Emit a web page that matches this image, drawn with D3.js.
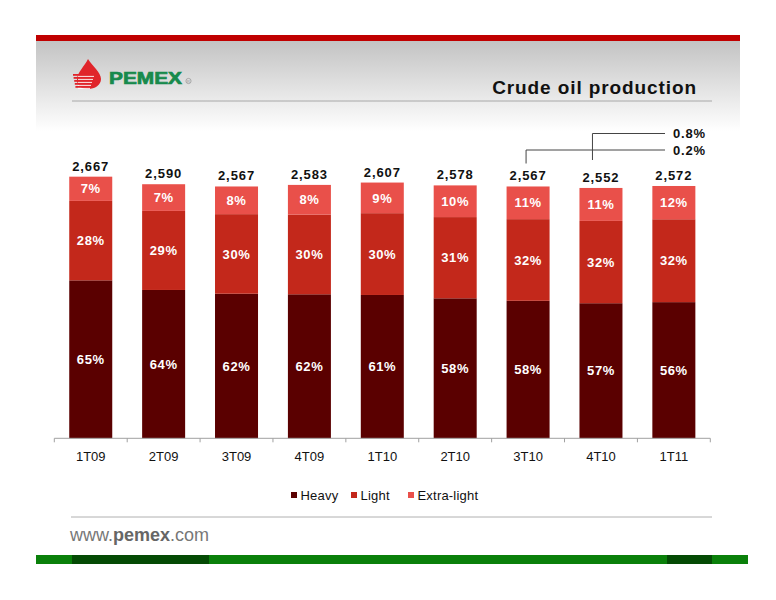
<!DOCTYPE html>
<html>
<head>
<meta charset="utf-8">
<script src="https://cdn.jsdelivr.net/npm/d3@7"></script>
<style>
  body { margin: 0; background: #fff; }
  svg { display: block; font-family: "Liberation Sans", Arial, sans-serif; }
</style>
</head>
<body>
<div id="chart"></div>
<script>
// quarters
var quarters = ['1T09', '2T09', '3T09', '4T09', '1T10', '2T10', '3T10', '4T10', '1T11'];
// segment volumes (kbd)
var heavy = [1610, 1512, 1474, 1468, 1461, 1427, 1402, 1377, 1388];
var light = [810, 806, 811, 812, 834, 828, 832, 839, 845];
var extraLight = [247, 272, 282, 303, 312, 323, 333, 336, 339];
// percentage labels printed inside the segments
var heavyPct = ['65%', '64%', '62%', '62%', '61%', '58%', '58%', '57%', '56%'];
var lightPct = ['28%', '29%', '30%', '30%', '30%', '31%', '32%', '32%', '32%'];
var extraPct = ['7%', '7%', '8%', '8%', '9%', '10%', '11%', '11%', '12%'];
// callout labels
var calloutQuarters = ['4T10', '3T10'];
var calloutLabels = ['0.8%', '0.2%'];

var seriesNames = ['Heavy', 'Light', 'Extra-light'];
var colors = ['#5a0000', '#c3281b', '#e9504a'];

var width = 776, height = 600;

var svg = d3.select('#chart').append('svg')
    .attr('width', width)
    .attr('height', height);

// header gradient + red band
var defs = svg.append('defs');
var grad = defs.append('linearGradient')
    .attr('id', 'hdr')
    .attr('x1', 0).attr('y1', 0).attr('x2', 0).attr('y2', 1);
grad.append('stop').attr('offset', '0%').attr('stop-color', '#c3c3c3');
grad.append('stop').attr('offset', '100%').attr('stop-color', '#ffffff');

svg.append('rect')
    .attr('x', 36).attr('y', 41)
    .attr('width', 704).attr('height', 90)
    .style('fill', 'url(#hdr)');

svg.append('rect')
    .attr('x', 36).attr('y', 35)
    .attr('width', 704).attr('height', 6)
    .style('fill', '#c00000');

// logo: drop with stripes
var logo = svg.append('g');
logo.append('path')
    .attr('d', 'M88,59 C85,66 77,72 77,80 C77,86 82,89 88,89 C95,89 101,85 101,79 C101,72 92,66 88,59 Z')
    .style('fill', '#e0252b');
[74, 77, 80, 83, 86].forEach(function(yy, i) {
    logo.append('rect')
        .attr('x', 73 + i * 0.6).attr('y', yy)
        .attr('width', 16 - i).attr('height', 1.8)
        .style('fill', '#e0252b');
    logo.append('line')
        .attr('x1', 78).attr('x2', 94 - i)
        .attr('y1', yy + 2.4).attr('y2', yy + 2.4)
        .style('stroke', '#fff')
        .style('stroke-width', 0.9);
});
logo.append('text')
    .attr('x', 109).attr('y', 84)
    .attr('textLength', 73)
    .attr('lengthAdjust', 'spacingAndGlyphs')
    .style('font-size', '17px')
    .style('font-weight', 'bold')
    .style('fill', '#178a4c')
    .style('stroke', '#178a4c')
    .style('stroke-width', 0.7)
    .text('PEMEX');
logo.append('circle')
    .attr('cx', 188.5).attr('cy', 81).attr('r', 2.6)
    .style('fill', 'none').style('stroke', '#999').style('stroke-width', 0.8);
logo.append('text')
    .attr('x', 188.5).attr('y', 82.6)
    .attr('text-anchor', 'middle')
    .style('font-size', '4px')
    .style('fill', '#999')
    .text('R');

// title
svg.append('text')
    .attr('x', 697).attr('y', 94)
    .attr('text-anchor', 'end')
    .style('font-size', '19px')
    .style('font-weight', 'bold')
    .style('letter-spacing', '0.9px')
    .style('fill', '#111')
    .text('Crude oil production');

svg.append('line')
    .attr('x1', 72).attr('x2', 712)
    .attr('y1', 101).attr('y2', 101)
    .style('stroke', '#a8a8a8').style('stroke-width', 1);

// scales
var x = d3.scaleBand()
    .domain(quarters)
    .range([54.3, 710.3])
    .paddingInner(0.41)
    .paddingOuter(0.205);

var y = d3.scaleLinear()
    .domain([0, 3000])
    .range([438.3, 144]);

var rows = quarters.map(function(q, i) {
    return { q: q, Heavy: heavy[i], Light: light[i], 'Extra-light': extraLight[i],
             pct: [heavyPct[i], lightPct[i], extraPct[i]] };
});
var totals = quarters.map(function(q, i) { return heavy[i] + light[i] + extraLight[i]; });

var stack = d3.stack().keys(seriesNames)(rows);

var layers = svg.selectAll('g.layer')
    .data(stack)
    .enter().append('g')
    .attr('class', 'layer')
    .style('fill', function(d, i) { return colors[i]; });

layers.selectAll('rect')
    .data(function(d) { return d; })
    .enter().append('rect')
    .attr('x', function(d) { return x(d.data.q); })
    .attr('y', function(d) { return y(d[1]); })
    .attr('height', function(d) { return y(d[0]) - y(d[1]); })
    .attr('width', x.bandwidth());

// percentage labels
stack.forEach(function(layer, li) {
    svg.selectAll('text.pct' + li)
        .data(layer)
        .enter().append('text')
        .attr('class', 'pct' + li)
        .attr('x', function(d) { return x(d.data.q) + x.bandwidth() / 2; })
        .attr('y', function(d) { return (y(d[0]) + y(d[1])) / 2; })
        .attr('dy', '0.36em')
        .attr('text-anchor', 'middle')
        .style('font-size', '13px')
        .style('font-weight', 'bold')
        .style('letter-spacing', '0.6px')
        .style('fill', '#fff')
        .text(function(d) { return d.data.pct[li]; });
});

// totals
var fmt = d3.format(',');
svg.selectAll('text.total')
    .data(quarters)
    .enter().append('text')
    .attr('class', 'total')
    .attr('x', function(d) { return x(d) + x.bandwidth() / 2; })
    .attr('y', function(d, i) { return y(totals[i]) - 6; })
    .attr('text-anchor', 'middle')
    .style('font-size', '13px')
    .style('font-weight', 'bold')
    .style('letter-spacing', '0.9px')
    .style('fill', '#111')
    .text(function(d, i) { return fmt(totals[i]); });

// x axis
var axisY = y(0);
svg.append('line')
    .attr('x1', 54.3).attr('x2', 710.3)
    .attr('y1', axisY).attr('y2', axisY)
    .style('stroke', '#a0a0a0');

var bounds = quarters.map(function(q) { return x(q) - x.step() * x.paddingInner() / 2; });
bounds.push(710.3);
bounds[0] = 54.3;
svg.selectAll('line.tick')
    .data(bounds)
    .enter().append('line')
    .attr('class', 'tick')
    .attr('x1', function(d) { return d; }).attr('x2', function(d) { return d; })
    .attr('y1', axisY).attr('y2', axisY + 4)
    .style('stroke', '#a0a0a0');

var xAxis = svg.append('g')
    .attr('transform', 'translate(0,' + axisY + ')')
    .call(d3.axisBottom(x).tickSize(0).tickPadding(13));
xAxis.select('.domain').remove();
xAxis.selectAll('text')
    .style('font-family', '"Liberation Sans", Arial, sans-serif')
    .style('font-size', '13px')
    .style('fill', '#111');

// callouts
var calloutY = [133.5, 150];
var calloutBottom = [160, 163.5];
var calloutShift = [-8.5, -2];
calloutQuarters.forEach(function(q, i) {
    var cx = x(q) + x.bandwidth() / 2 + calloutShift[i];
    svg.append('path')
        .attr('d', 'M' + cx + ',' + calloutBottom[i] + 'V' + calloutY[i] + 'H665')
        .style('fill', 'none')
        .style('stroke', '#444')
        .style('stroke-width', 1);
    svg.append('text')
        .attr('x', 673).attr('y', calloutY[i] + 4.7)
        .style('font-size', '13px')
        .style('font-weight', 'bold')
        .style('letter-spacing', '0.8px')
        .style('fill', '#111')
        .text(calloutLabels[i]);
});

// legend
var legendX = [291, 351, 408];
var legend = svg.selectAll('g.legend')
    .data(seriesNames)
    .enter().append('g')
    .attr('class', 'legend')
    .attr('transform', function(d, i) { return 'translate(' + legendX[i] + ',492)'; });
legend.append('rect')
    .attr('width', 6).attr('height', 6)
    .style('fill', function(d, i) { return colors[i]; });
legend.append('text')
    .attr('x', 9.5).attr('y', 7.6)
    .style('font-size', '13px')
    .style('letter-spacing', '0.2px')
    .style('fill', '#111')
    .text(function(d) { return d; });

// footer
svg.append('line')
    .attr('x1', 71).attr('x2', 712)
    .attr('y1', 517).attr('y2', 517)
    .style('stroke', '#b0b0b0').style('stroke-width', 1);

var site = svg.append('text')
    .attr('x', 70).attr('y', 541)
    .style('font-size', '18px')
    .style('fill', '#777');
site.append('tspan').text('www.');
site.append('tspan').style('fill', '#666').style('font-weight', 'bold').text('pemex');
site.append('tspan').text('.com');

svg.append('rect')
    .attr('x', 36).attr('y', 555)
    .attr('width', 712).attr('height', 9)
    .style('fill', '#0a800a');
svg.append('rect')
    .attr('x', 72).attr('y', 555)
    .attr('width', 137).attr('height', 9)
    .style('fill', '#044a04');
svg.append('rect')
    .attr('x', 667).attr('y', 555)
    .attr('width', 45).attr('height', 9)
    .style('fill', '#044a04');
</script>
</body>
</html>
